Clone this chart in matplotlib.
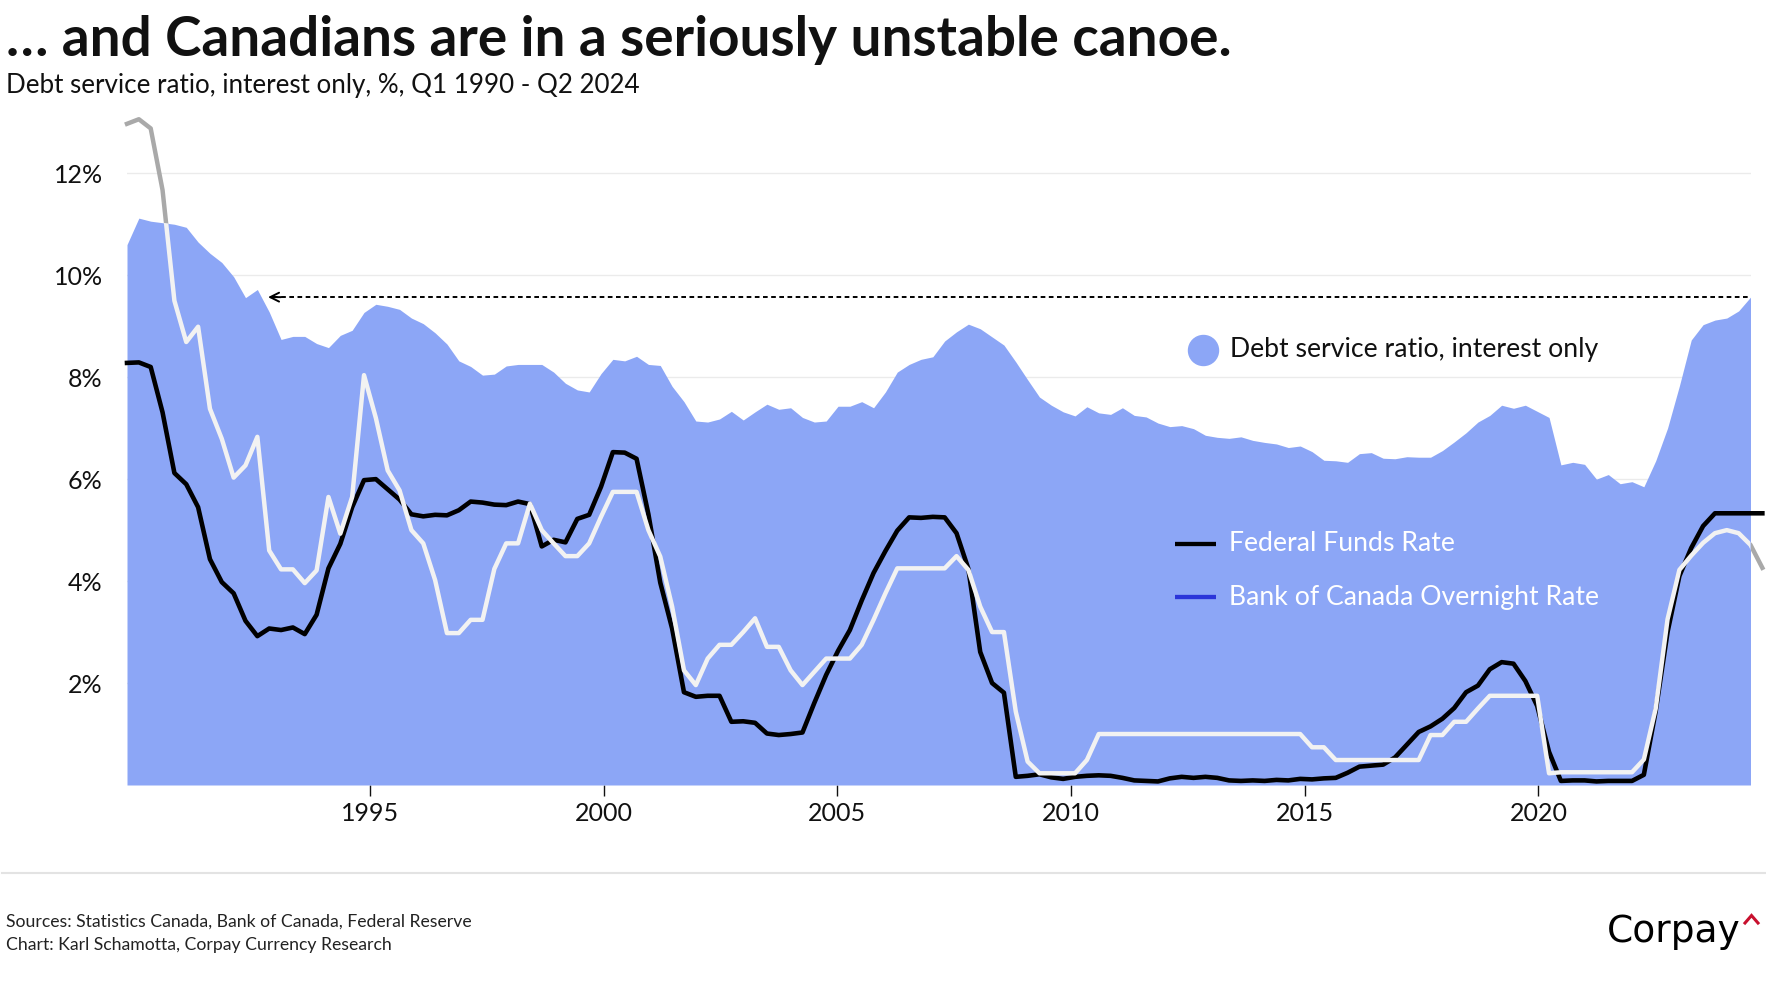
import numpy as np
import matplotlib.pyplot as plt
from matplotlib.lines import Line2D

plt.rcParams['font.family'] = ['Lato', 'DejaVu Sans']

W, H = 1766, 1000

# quarterly, Q1 1990 - Q2 2024 (debt service ratio), rates run one quarter longer
dsr = [10.6, 11.12, 11.06, 11.03, 11.0, 10.94, 10.65, 10.43, 10.25, 9.97,
       9.56, 9.72, 9.28, 8.74, 8.8, 8.8, 8.66, 8.58, 8.82, 8.92,
       9.27, 9.43, 9.39, 9.33, 9.16, 9.05, 8.87, 8.65, 8.32, 8.21,
       8.04, 8.06, 8.22, 8.25, 8.25, 8.25, 8.1, 7.88, 7.75, 7.71,
       8.07, 8.35, 8.32, 8.41, 8.25, 8.23, 7.82, 7.52, 7.14, 7.12,
       7.18, 7.33, 7.16, 7.32, 7.47, 7.37, 7.4, 7.21, 7.12, 7.14,
       7.43, 7.43, 7.52, 7.4, 7.71, 8.1, 8.25, 8.35, 8.4, 8.71,
       8.89, 9.04, 8.95, 8.79, 8.63, 8.3, 7.95, 7.61, 7.45, 7.32,
       7.24, 7.42, 7.3, 7.27, 7.4, 7.25, 7.22, 7.1, 7.03, 7.05,
       6.99, 6.86, 6.82, 6.8, 6.83, 6.76, 6.72, 6.69, 6.62, 6.65,
       6.54, 6.37, 6.36, 6.33, 6.5, 6.52, 6.41, 6.4, 6.44, 6.43,
       6.43, 6.56, 6.73, 6.91, 7.12, 7.25, 7.45, 7.39, 7.45, 7.33,
       7.21, 6.28, 6.33, 6.29, 6.0, 6.09, 5.91, 5.95, 5.85, 6.36,
       7.0, 7.83, 8.73, 9.03, 9.12, 9.16, 9.3, 9.57]

fed_funds = [8.28, 8.29, 8.2, 7.31, 6.12, 5.9, 5.45, 4.43, 3.98, 3.76,
             3.22, 2.92, 3.07, 3.04, 3.09, 2.96, 3.34, 4.25, 4.73, 5.45,
             5.98, 6.0, 5.8, 5.6, 5.31, 5.27, 5.3, 5.29, 5.39, 5.56,
             5.54, 5.5, 5.49, 5.56, 5.51, 4.68, 4.81, 4.76, 5.22, 5.3,
             5.85, 6.53, 6.52, 6.4, 5.31, 3.97, 3.07, 1.82, 1.73, 1.75,
             1.75, 1.24, 1.25, 1.22, 1.01, 0.98, 1.0, 1.03, 1.61, 2.16,
             2.63, 3.04, 3.62, 4.16, 4.59, 4.99, 5.25, 5.24, 5.26, 5.25,
             4.94, 4.24, 2.61, 2.0, 1.81, 0.16, 0.18, 0.21, 0.15, 0.12,
             0.16, 0.18, 0.19, 0.18, 0.14, 0.09, 0.08, 0.07, 0.13, 0.16,
             0.14, 0.16, 0.14, 0.09, 0.08, 0.09, 0.08, 0.1, 0.09, 0.12,
             0.11, 0.13, 0.14, 0.24, 0.36, 0.38, 0.4, 0.54, 0.79, 1.04,
             1.15, 1.3, 1.51, 1.82, 1.95, 2.27, 2.41, 2.38, 2.04, 1.55,
             0.65, 0.08, 0.09, 0.09, 0.07, 0.08, 0.08, 0.08, 0.2, 1.45,
             3.0, 4.1, 4.65, 5.08, 5.33, 5.33, 5.33, 5.33, 5.33]

boc_rate = [12.97, 13.06, 12.88, 11.67, 9.5, 8.69, 8.99, 7.38, 6.79, 6.03,
            6.27, 6.83, 4.6, 4.23, 4.23, 3.96, 4.21, 5.65, 4.93, 5.65,
            8.04, 7.2, 6.17, 5.78, 5.0, 4.74, 4.02, 2.98, 2.98, 3.24,
            3.24, 4.24, 4.74, 4.74, 5.52, 5.0, 4.74, 4.49, 4.49, 4.74,
            5.26, 5.75, 5.75, 5.75, 5.0, 4.48, 3.5, 2.25, 1.96, 2.48,
            2.75, 2.75, 3.0, 3.27, 2.71, 2.71, 2.25, 1.96, 2.22, 2.48,
            2.48, 2.48, 2.75, 3.24, 3.76, 4.25, 4.25, 4.25, 4.25, 4.25,
            4.49, 4.22, 3.5, 3.0, 3.0, 1.44, 0.46, 0.23, 0.23, 0.23,
            0.23, 0.49, 1.0, 1.0, 1.0, 1.0, 1.0, 1.0, 1.0, 1.0,
            1.0, 1.0, 1.0, 1.0, 1.0, 1.0, 1.0, 1.0, 1.0, 1.0,
            0.74, 0.74, 0.49, 0.49, 0.49, 0.49, 0.49, 0.49, 0.49, 0.49,
            0.98, 0.98, 1.24, 1.24, 1.5, 1.75, 1.75, 1.75, 1.75, 1.75,
            0.23, 0.25, 0.25, 0.25, 0.25, 0.25, 0.25, 0.25, 0.5, 1.5,
            3.25, 4.22, 4.5, 4.75, 4.94, 5.0, 4.94, 4.71, 4.26]

tick_years = [1995, 2000, 2005, 2010, 2015, 2020]
ytick_vals = [2, 4, 6, 8, 10, 12]

dsr_x = np.arange(len(dsr))
rate_x = np.arange(len(fed_funds))
# year ticks in the original sit a little off the quarter grid
tick_pos = [20.5 + (yr - 1995) * 3.944 for yr in tick_years]


def fx(px):
    return px / W


def fy(py):
    return 1 - py / H


fig = plt.figure(figsize=(W / 100, H / 100), dpi=100)
fig.patch.set_facecolor('white')
ax = fig.add_axes([fx(127), fy(785), (1750.5 - 127) / W, (785 - 107) / H])

ax.set_xlim(0, len(dsr) - 1)
ax.set_ylim(0, 13.3)
for s in ax.spines.values():
    s.set_visible(False)

ax.set_axisbelow(True)
ax.grid(axis='y', color='#ebebeb', lw=1.0)
ax.set_yticks(ytick_vals, [f'{v}%' for v in ytick_vals])
ax.tick_params(axis='y', length=0, pad=17.5, labelsize=18, labelcolor='#111111')
ax.set_xticks(tick_pos, [str(y) for y in tick_years])
ax.tick_params(axis='x', length=7.7, width=1.0, pad=4.3, labelsize=18,
               color='#111111', labelcolor='#111111')

# BoC line shows grey where it leaves the blue area
ax.plot(rate_x, boc_rate, color='#a9a9a9', lw=3.2, zorder=1.5, clip_on=False)
area = ax.fill_between(dsr_x, 0, dsr, color='#8ca6f6', lw=0, zorder=2)
ax.plot(rate_x, fed_funds, color='black', lw=3.3, zorder=3, clip_on=False)
white, = ax.plot(rate_x, boc_rate, color='#f2f2f2', lw=3.2, zorder=4)
white.set_clip_path(area.get_paths()[0], ax.transData)

# dotted arrow back to the last time the ratio was this high
ax.plot([12.3, dsr_x[-1]], [dsr[-1], dsr[-1]], color='black', lw=1.4,
        linestyle=(0, (2.4, 1.8)), zorder=5, clip_on=False)
ax.annotate('', xy=(11.9, dsr[-1]), xytext=(13.0, dsr[-1]),
            arrowprops=dict(arrowstyle='->', color='black', lw=1.4,
                            shrinkA=0, shrinkB=0, mutation_scale=16), zorder=5)

# legend
fig.add_artist(Line2D([fx(1203)], [fy(350)], marker='o', ms=21.6, color='#8ca6f6',
                      lw=0))
fig.text(fx(1229.5), fy(350), 'Debt service ratio, interest only', fontsize=19.2,
         color='#111111', va='center', ha='left')
fig.add_artist(Line2D([fx(1175), fx(1216)], [fy(543.5), fy(543.5)], color='black',
                      lw=3.1, solid_capstyle='butt'))
fig.text(fx(1229), fy(543.5), 'Federal Funds Rate', fontsize=19.2, color='white',
         va='center', ha='left')
fig.add_artist(Line2D([fx(1175), fx(1216)], [fy(597), fy(597)], color='#2b35d9',
                      lw=3.1, solid_capstyle='butt'))
fig.text(fx(1229), fy(597), 'Bank of Canada Overnight Rate', fontsize=19.2,
         color='white', va='center', ha='left')

# titles
fig.text(fx(6), fy(56), '\u2026 and Canadians are in a seriously unstable canoe.',
         fontsize=39.5, fontweight='bold', color='#111111', va='baseline')
fig.text(fx(6), fy(93.5), 'Debt service ratio, interest only, %, Q1 1990 - Q2 2024',
         fontsize=18.7, color='#111111', va='baseline')

# footer
fig.add_artist(Line2D([0.001, 1.0], [fy(872.7), fy(872.7)], color='#e3e3e3', lw=1.5))
fig.text(fx(6), fy(927), 'Sources: Statistics Canada, Bank of Canada, Federal Reserve',
         fontsize=12.7, color='#222222', va='baseline')
fig.text(fx(6), fy(950), 'Chart: Karl Schamotta, Corpay Currency Research',
         fontsize=12.7, color='#222222', va='baseline')
fig.text(fx(1606.7), fy(942), 'Corpay', fontsize=27, color='black', va='baseline',
         family='DejaVu Sans')
fig.add_artist(Line2D([fx(1745), fx(1751.5), fx(1758)], [fy(923), fy(915.5), fy(923)],
                      color='#c8102e', lw=2.2, solid_joinstyle='miter'))

fig.savefig('out.png', dpi=100, facecolor='white')
